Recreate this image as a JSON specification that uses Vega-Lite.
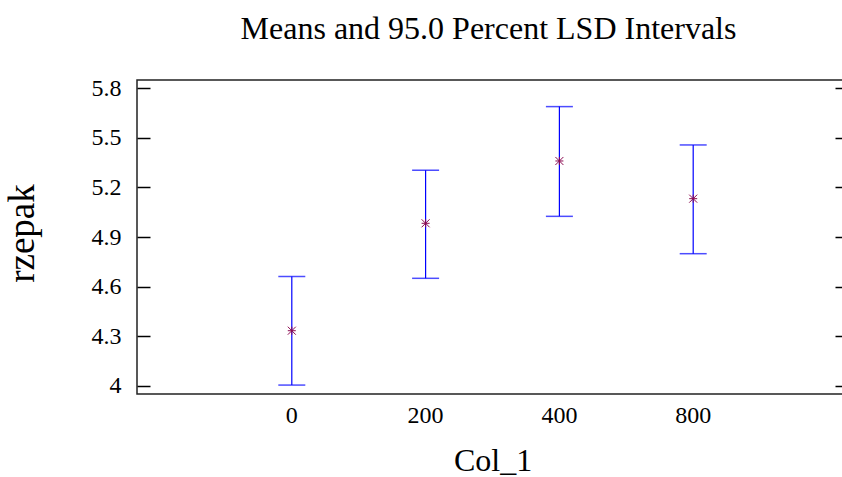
{
  "$schema": "https://vega.github.io/schema/vega-lite/v6.json",
  "width": 711,
  "height": 314,
  "autosize": {"type": "none"},
  "padding": {"left": 137, "top": 80, "right": -6, "bottom": 83},
  "background": "white",
  "config": {"view": {"stroke": "#222222", "strokeWidth": 1.5}, "font": "Liberation Serif"},
  "title": {"text": "Means and 95.0 Percent LSD Intervals", "fontSize": 32, "font": "Liberation Serif", "fontWeight": "normal", "color": "black", "anchor": "middle", "offset": -2, "baseline": "bottom", "dx": -4},
  "data": {"values": [
    {"Col_1": 0, "mean": 4.333, "lower": 4.004, "upper": 4.661},
    {"Col_1": 200, "mean": 4.983, "lower": 4.650, "upper": 5.304},
    {"Col_1": 400, "mean": 5.360, "lower": 5.025, "upper": 5.689},
    {"Col_1": 800, "mean": 5.132, "lower": 4.799, "upper": 5.457}
  ]},
  "encoding": {
    "x": {"field": "Col_1", "type": "ordinal", "sort": "ascending",
      "scale": {"type": "band", "paddingInner": 0, "paddingOuter": 0.657, "align": 0.5},
      "axis": {"ticks": false, "domain": false, "labelFontSize": 24, "labelFont": "Liberation Serif", "labelColor": "black", "labelPadding": 9, "labelAngle": 0, "title": "Col_1", "titleFontSize": 32, "titleFont": "Liberation Serif", "titleFontWeight": "normal", "titleColor": "black", "titlePadding": 18, "grid": false}}
  },
  "layer": [
    {
      "mark": {"type": "rule", "color": "#0000ff", "strokeWidth": 1.2},
      "encoding": {
        "y": {"field": "lower", "type": "quantitative",
          "scale": {"domain": [3.95, 5.85], "nice": false, "zero": false},
          "axis": {"orient": "left", "values": [4, 4.3, 4.6, 4.9, 5.2, 5.5, 5.8], "format": ".1~f", "domain": false, "grid": false, "ticks": true, "tickSize": -13, "tickColor": "black", "tickWidth": 1.5, "labelPadding": 29, "labelFontSize": 24, "labelFont": "Liberation Serif", "labelColor": "black", "title": "rzepak", "titleFontSize": 37, "titleFont": "Liberation Serif", "titleFontWeight": "normal", "titleColor": "black", "titlePadding": 50, "titleY": 153}},
        "y2": {"field": "upper"}
      }
    },
    {
      "mark": {"type": "tick", "color": "#0000ff", "size": 27, "thickness": 1.5, "orient": "horizontal"},
      "encoding": {"y": {"field": "lower", "type": "quantitative", "axis": null}}
    },
    {
      "mark": {"type": "tick", "color": "#0000ff", "size": 27, "thickness": 1.5, "orient": "horizontal"},
      "encoding": {"y": {"field": "upper", "type": "quantitative", "axis": null}}
    },
    {
      "mark": {"type": "point", "shape": "M-1,-1L1,1M-1,1L1,-1M-1,0H1M0,-1V1", "filled": false, "stroke": "#8B0A50", "strokeWidth": 1, "size": 64, "opacity": 1},
      "encoding": {"y": {"field": "mean", "type": "quantitative",
        "axis": {"orient": "right", "values": [4, 4.3, 4.6, 4.9, 5.2, 5.5, 5.8], "labels": false, "domain": false, "grid": false, "ticks": true, "tickSize": -13, "tickColor": "black", "tickWidth": 1.5, "title": null}}}
    }
  ],
  "resolve": {"axis": {"y": "independent"}}
}
